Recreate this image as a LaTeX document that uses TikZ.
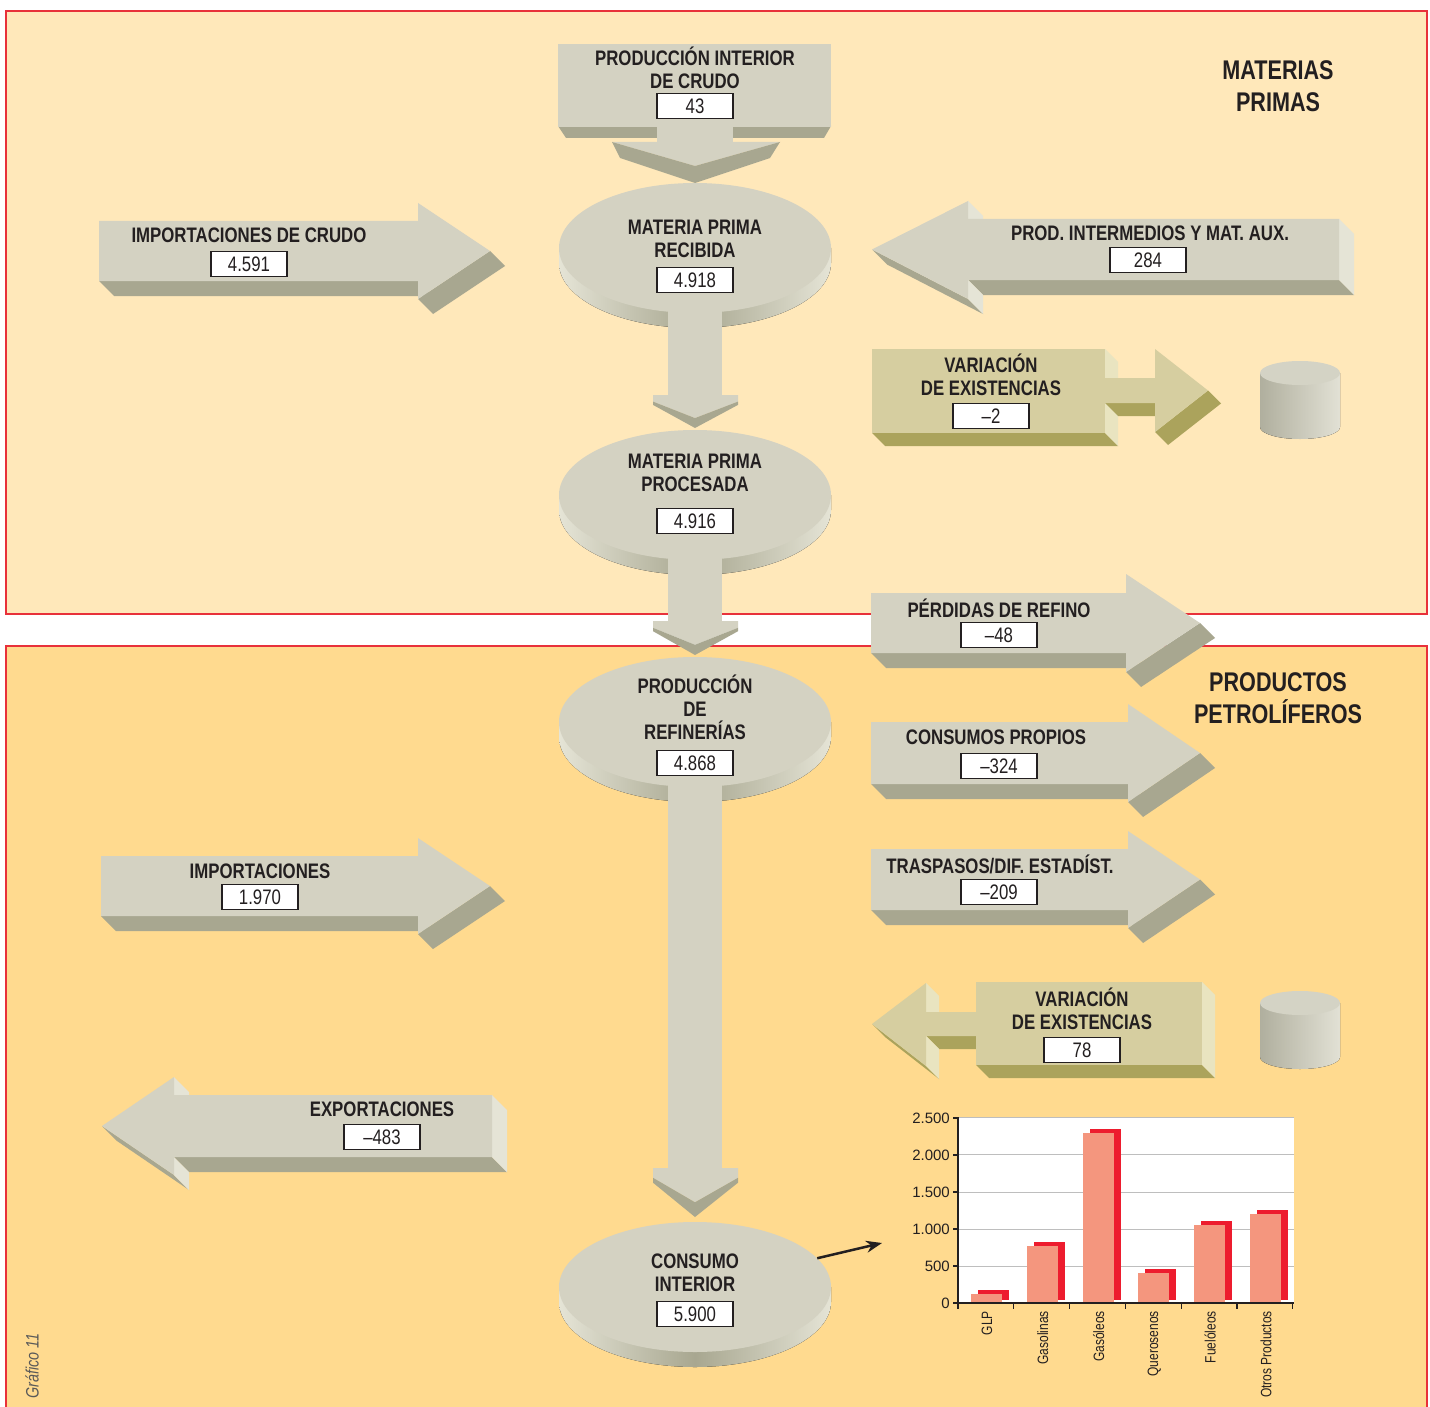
\documentclass[tikz,border=0pt]{standalone}
\usepackage{fontspec}
\setmainfont{Liberation Sans}[FakeStretch=0.8]
\newfontfamily\wideface{Liberation Sans}
\usepackage{tikz}
\usetikzlibrary{shapes.geometric}
\usetikzlibrary{positioning}
\usetikzlibrary{arrows.meta}

\definecolor{panelA}{RGB}{255,232,186}
\definecolor{panelB}{RGB}{255,218,143}
\definecolor{frame}{RGB}{232,49,58}
\definecolor{ink}{RGB}{35,31,32}
\definecolor{gface}{RGB}{212,210,194}
\definecolor{gdark}{RGB}{168,167,144}
\definecolor{glite}{RGB}{229,228,214}
\definecolor{oface}{RGB}{214,206,160}
\definecolor{odark}{RGB}{171,163,92}
\definecolor{olite}{RGB}{233,228,192}
\definecolor{drumdark}{RGB}{176,175,158}
\definecolor{drumlite}{RGB}{226,225,213}
\definecolor{drumtop}{RGB}{212,211,197}
\definecolor{barpink}{RGB}{244,150,126}
\definecolor{barred}{RGB}{237,28,46}
\definecolor{gridgray}{RGB}{190,190,190}

% depth of the 3D blocks
\newcommand\dep{15}

% block arrow: body end x, head back x, tip x, body top, body bottom, head top, head bottom
\newcommand\harrow[7]{%
  \fill[darkside] (#1,#5) -- (#2,#5) -- ({#2+\dep},{#5+\dep}) -- ({#1+\dep},{#5+\dep}) -- cycle;
  \fill[darkside] (#3,{(#4+#5)/2}) -- (#2,#7) -- ({#2+\dep},{#7+\dep}) -- ({#3+\dep},{(#4+#5)/2+\dep}) -- cycle;
  \ifdim#1pt>#2pt
    \fill[liteside] (#1,#4) -- ({#1+\dep},{#4+\dep}) -- ({#1+\dep},{#5+\dep}) -- (#1,#5) -- cycle;
    \fill[liteside] (#2,#6) -- ({#2+\dep},{#6+\dep}) -- ({#2+\dep},{#4+\dep}) -- (#2,#4) -- cycle;
    \fill[liteside] (#2,#5) -- ({#2+\dep},{#5+\dep}) -- ({#2+\dep},{#7+\dep}) -- (#2,#7) -- cycle;
  \fi
  \fill[faceside] (#1,#4) -- (#2,#4) -- (#2,#6) -- (#3,{(#4+#5)/2}) -- (#2,#7) -- (#2,#5) -- (#1,#5) -- cycle;
}

% sides of a box: left x, right x, top, bottom
\newcommand\prism[4]{%
  \fill[darkside] (#1,#4) -- (#2,#4) -- ({#2+\dep},{#4+\dep}) -- ({#1+\dep},{#4+\dep}) -- cycle;
  \fill[liteside] (#2,#3) -- ({#2+\dep},{#3+\dep}) -- ({#2+\dep},{#4+\dep}) -- (#2,#4) -- cycle;
}

% down arrow head: top, height
\newcommand\vhead[2]{%
  \fill[faceside] (653,#1) -- (738,#1) -- (738,{#1+0.2*#2}) -- (695,{#1+0.7*#2}) -- (653,{#1+0.2*#2}) -- cycle;
  \fill[darkside] (653,{#1+0.2*#2}) -- (695,{#1+0.7*#2}) -- (738,{#1+0.2*#2}) -- (738,{#1+0.3*#2}) -- (695,{#1+#2}) -- (653,{#1+0.3*#2}) -- cycle;
}

% rim of a disc
\newcommand\discrim[2]{%
  \fill[rim] ({#1-136},#2) -- ({#1-136},{#2+15}) arc[start angle=180,end angle=0,x radius=136,y radius=65] -- ({#1+136},#2) -- cycle;
}

% storage drum
\newcommand\drum[2]{%
  \fill[drumside] ({#1-40},#2) -- ({#1-40},{#2+54}) arc[start angle=180,end angle=0,x radius=40,y radius=12] -- ({#1+40},#2) -- cycle;
  \fill[drumtop] (#1,#2) ellipse (40 and 12);
}

\begin{document}
\begin{tikzpicture}[x=1pt,y=-1pt,>={Stealth[length=16pt,width=12pt]},
  faceside/.style={fill=gface},
  darkside/.style={fill=gdark},
  liteside/.style={fill=glite},
  rim/.style={left color=glite,right color=glite,middle color=gdark},
  drumside/.style={left color=drumdark,right color=drumlite},
  disc/.style={ellipse,fill=gface,minimum width=272pt,minimum height=130pt,inner sep=0pt},
  lbl/.style={font=\fontsize{21}{23}\selectfont\bfseries,text=ink,align=center,inner sep=0pt},
  val/.style={draw=ink,line width=1.1pt,fill=white,minimum width=76pt,minimum height=25pt,inner sep=0pt,font=\fontsize{21}{23}\selectfont,text=ink},
  head/.style={font=\fontsize{27}{32}\selectfont\bfseries,text=ink,align=center,inner sep=0pt},
  tick/.style={font=\wideface\fontsize{15}{17}\selectfont,text=ink,anchor=east,inner sep=0pt},
  cat/.style={font=\fontsize{15}{17}\selectfont,text=ink,rotate=90,anchor=east,inner sep=0pt}]

\useasboundingbox (0,0) rectangle (1430,1407);
\fill[white] (0,0) rectangle (1430,1407);

% panels
\fill[panelA] (6,11) rectangle (1427,614);
\draw[frame,line width=1.2pt] (6,11) rectangle (1427,614);
\fill[panelB] (6,646) rectangle (1427,1407);
\draw[frame,line width=1.2pt] (6,1407) -- (6,646) -- (1427,646) -- (1427,1407);

\node[head] (materias) at (1278,86) {MATERIAS\\PRIMAS};
\node[head] (productos) at (1278,698) {PRODUCTOS\\PETROLÍFEROS};

% crude production block
\fill[darkside] (558,126) -- (657,126) -- (657,138) -- (566,138) -- cycle;
\fill[darkside] (733,126) -- (831,126) -- (824,138) -- (733,138) -- cycle;
\fill[faceside] (657,125) rectangle (733,143);
\fill[faceside] (612,142) -- (780,142) -- (695,166) -- cycle;
\fill[darkside] (612,142) -- (620,158) -- (695,183) -- (770,158) -- (780,142) -- (695,166) -- cycle;
\node[fill=gface,minimum width=273pt,minimum height=83pt,inner sep=0pt] (crudo) at (694.5,85.5) {};
\node[lbl] (crudotxt) at (695,67.5) {PRODUCCIÓN INTERIOR\\DE CRUDO};
\node[val] (crudoval) at (695,106) {43};

% discs
\discrim{695}{248}
\node[disc] (recibida) at (695,248) {};
\discrim{695}{495}
\node[disc] (procesada) at (695,495) {};
\discrim{695}{722}
\node[disc] (refinerias) at (695,722) {};
\discrim{695}{1287}
\node[disc] (consumo) at (695,1287) {};

% main flow
\fill[faceside] (668,311) rectangle (722,396);
\vhead{395}{33}
\fill[faceside] (668,558) rectangle (722,622);
\vhead{621}{34}
\fill[faceside] (668,785) rectangle (722,1169);
\vhead{1168}{49}

\node[lbl] (recibidatxt) at (695,238.5) {MATERIA PRIMA\\RECIBIDA};
\node[val] (recibidaval) at (695,280) {4.918};
\node[lbl] (procesadatxt) at (695,472.5) {MATERIA PRIMA\\PROCESADA};
\node[val] (procesadaval) at (695,521) {4.916};
\node[lbl] (refineriastxt) at (695,707) {PRODUCCIÓN\\DE\\REFINERÍAS};
\node[val] (refineriasval) at (695,763) {4.868};
\node[lbl] (consumotxt) at (695,1272.5) {CONSUMO\\INTERIOR};
\node[val] (consumoval) at (695,1314) {5.900};

% side flows
\harrow{99}{418}{490}{221}{281}{203}{299}
\node[lbl] (impcrudotxt) at (249,235) {IMPORTACIONES DE CRUDO};
\node[val] (impcrudoval) at (249,264) {4.591};

\harrow{1339}{968}{872}{219}{280}{201}{299}
\node[lbl] (intermtxt) at (1150,233) {PROD. INTERMEDIOS Y MAT. AUX.};
\node[val] (intermval) at (1148,260) {284};

\harrow{871}{1126}{1200}{593}{653}{574}{672}
\node[lbl] (perdidastxt) at (999,608) {PÉRDIDAS DE REFINO};
\node[val] (perdidasval) at (999,635) {–48};

\harrow{871}{1128}{1200}{722}{784}{704}{802}
\node[lbl] (propiostxt) at (996,737) {CONSUMOS PROPIOS};
\node[val] (propiosval) at (999,766) {–324};

\harrow{871}{1128}{1200}{849}{910}{831}{928}
\node[lbl] (traspasostxt) at (1000,864) {TRASPASOS/DIF. ESTADÍST.};
\node[val] (traspasosval) at (999,892) {–209};

\harrow{101}{418}{490}{856}{916}{838}{934}
\node[lbl] (importtxt) at (260,871) {IMPORTACIONES};
\node[val] (importval) at (260,897) {1.970};

\harrow{492}{174}{102}{1095}{1157}{1077}{1175}
\node[lbl] (exporttxt) at (382,1109) {EXPORTACIONES};
\node[val] (exportval) at (382,1137) {–483};

% stock changes
\begin{scope}[faceside/.style={fill=oface},darkside/.style={fill=odark},liteside/.style={fill=olite}]
  \def\dep{13}
  \prism{872}{1105}{349}{433}
  \harrow{1105}{1155}{1208}{378}{403}{349}{432}
  \fill[faceside] (872,349) rectangle (1105,433);
  \harrow{976}{926}{872}{1012}{1036}{983}{1066}
  \prism{976}{1202}{982}{1065}
  \fill[faceside] (976,982) rectangle (1202,1065);
\end{scope}
\node[lbl] (exist1txt) at (991,375) {VARIACIÓN\\DE EXISTENCIAS};
\node[val] (exist1val) at (991,416) {–2};
\node[lbl] (exist2txt) at (1082,1009) {VARIACIÓN\\DE EXISTENCIAS};
\node[val] (exist2val) at (1082,1050) {78};

\drum{1300}{373}
\drum{1300}{1003}

% chart of products
\fill[white] (958,1117) rectangle (1294,1303);
\foreach \v in {500,1000,1500,2000,2500}
  \draw[gridgray,line width=1pt] (958,{1303-\v*0.074}) -- (1294,{1303-\v*0.074});
\foreach \v [count=\i from 0] in {122,770,2297,405,1054,1203} {
  \fill[barred] ({978+55.8*\i},1300) rectangle ({1009+55.8*\i},{1299-\v*0.074});
  \fill[barpink] ({971+55.8*\i},1303) rectangle ({1002+55.8*\i},{1303-\v*0.074});
}
\draw[ink,line width=1.5pt] (958,1117) -- (958,1303) -- (1294,1303);
\foreach \v/\t in {0/0,500/500,1000/1.000,1500/1.500,2000/2.000,2500/2.500} {
  \draw[ink,line width=1.2pt] (953,{1303-\v*0.074}) -- (958,{1303-\v*0.074});
  \node[tick] (tick\v) at (950,{1303-\v*0.074}) {\t};
}
\foreach \i in {0,...,6}
  \draw[ink,line width=1.2pt] ({958+55.8*\i},1303) -- ({958+55.8*\i},1309);
\foreach \t [count=\i from 0] in {GLP,Gasolinas,Gasóleos,Querosenos,Fuelóleos,Otros Productos}
  \node[cat] (cat\i) at ({987+55.8*\i},1311) {\t};

\coordinate (chart) at (882,1243);
\draw[->,ink,line width=2.5pt] (consumo) -- (chart);

\node[rotate=90,font=\fontsize{18}{20}\selectfont\itshape,text=black!65] (grafico) at (32,1366) {Gráfico 11};
\end{tikzpicture}
\end{document}
